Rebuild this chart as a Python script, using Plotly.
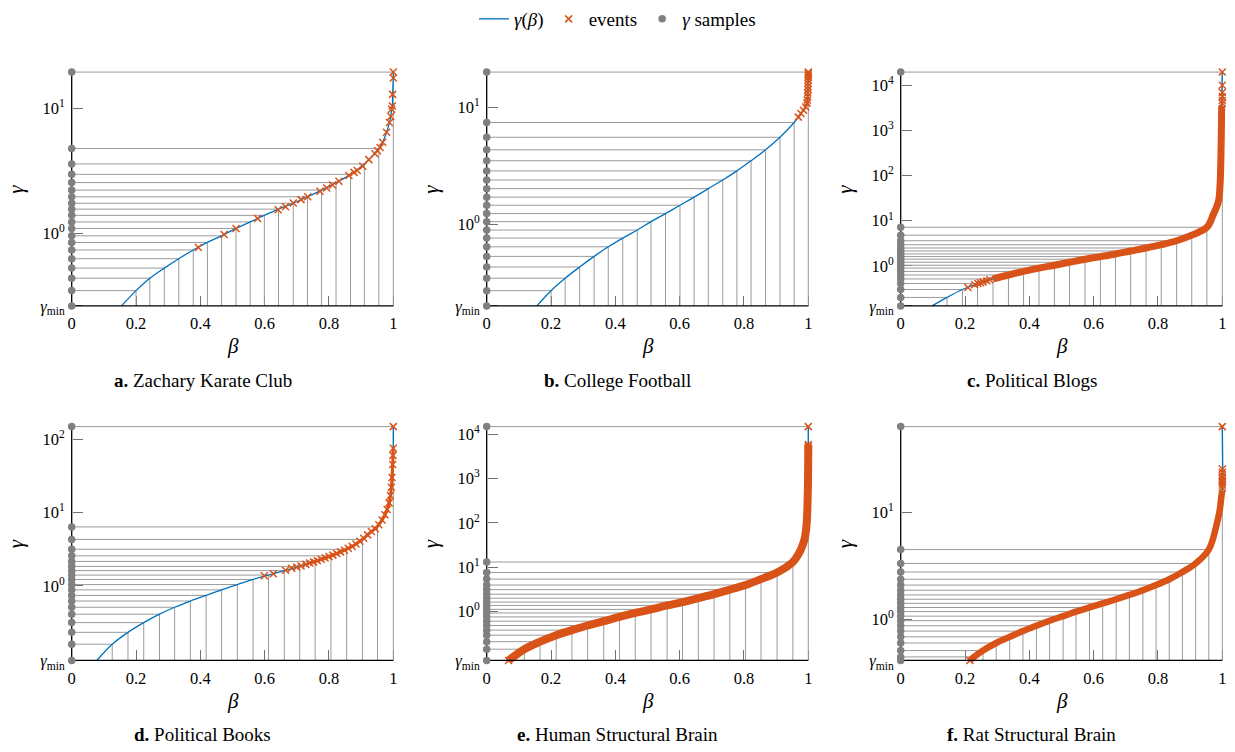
import math
import plotly.graph_objects as go

# ---------------- data ----------------
panel_letters = ["a.", "b.", "c.", "d.", "e.", "f."]
panel_names = ["Zachary Karate Club", "College Football", "Political Blogs",
               "Political Books", "Human Structural Brain", "Rat Structural Brain"]
x_tick_vals = [0, 0.2, 0.4, 0.6, 0.8, 1]
x_tick_text = ["0", "0.2", "0.4", "0.6", "0.8", "1"]

# a. Zachary Karate Club
a_gmin, a_gmax = 0.264, 19.6
a_yticks = [1, 10]
a_sample_beta = [0.200, 0.243, 0.288, 0.333, 0.378, 0.422, 0.466, 0.511, 0.555, 0.599, 0.643, 0.689, 0.733, 0.777, 0.822, 0.867, 0.910, 0.955, 1.000]
a_sample_gamma = [0.35, 0.44, 0.53, 0.63, 0.74, 0.85, 0.96, 1.10, 1.24, 1.40, 1.57, 1.75, 1.97, 2.23, 2.56, 2.98, 3.61, 4.80, 19.6]
a_curve_beta = [0.155, 0.200, 0.243, 0.288, 0.333, 0.378, 0.422, 0.466, 0.511, 0.555, 0.599, 0.643, 0.689, 0.733, 0.777, 0.822, 0.867, 0.910, 0.955, 0.967, 0.979, 0.988, 0.992, 0.995, 0.997, 0.998, 1.000, 1.000]
a_curve_gamma = [0.264, 0.35, 0.44, 0.53, 0.63, 0.74, 0.85, 0.96, 1.10, 1.24, 1.40, 1.57, 1.75, 1.97, 2.23, 2.56, 2.98, 3.61, 4.80, 5.39, 6.47, 7.75, 8.65, 9.9, 10.5, 13.0, 17.6, 19.6]
a_event_beta = [0.394, 0.474, 0.511, 0.578, 0.642, 0.665, 0.689, 0.713, 0.734, 0.772, 0.793, 0.811, 0.831, 0.862, 0.878, 0.888, 0.905, 0.924, 0.943, 0.951, 0.959, 0.967, 0.979, 0.988, 0.992, 0.995, 0.997, 0.998, 1.000, 1.000]
a_event_gamma = [0.775, 0.985, 1.10, 1.32, 1.55, 1.64, 1.76, 1.87, 1.97, 2.18, 2.32, 2.45, 2.62, 2.92, 3.09, 3.20, 3.46, 3.91, 4.36, 4.60, 4.89, 5.39, 6.47, 7.75, 8.65, 9.9, 10.5, 13.0, 17.6, 19.6]
a_band_beta, a_band_gamma = [], []

# b. College Football
b_gmin, b_gmax = 0.2, 19.9
b_yticks = [1, 10]
b_sample_beta = [0.200, 0.244, 0.289, 0.334, 0.378, 0.423, 0.468, 0.511, 0.556, 0.601, 0.645, 0.689, 0.734, 0.778, 0.822, 0.867, 0.912, 0.956, 1.000]
b_sample_gamma = [0.27, 0.345, 0.43, 0.53, 0.64, 0.76, 0.89, 1.05, 1.23, 1.45, 1.70, 2.01, 2.38, 2.85, 3.48, 4.31, 5.52, 7.38, 19.9]
b_curve_beta = [0.156, 0.200, 0.244, 0.289, 0.334, 0.378, 0.423, 0.468, 0.511, 0.556, 0.601, 0.645, 0.689, 0.734, 0.778, 0.822, 0.867, 0.912, 0.956, 0.969, 0.977, 0.985, 0.992, 0.996, 0.998, 0.999, 1.000, 1.000]
b_curve_gamma = [0.2, 0.27, 0.345, 0.43, 0.53, 0.64, 0.76, 0.89, 1.05, 1.23, 1.45, 1.70, 2.01, 2.38, 2.85, 3.48, 4.31, 5.52, 7.38, 8.2, 8.8, 9.4, 10.0, 10.8, 12.3, 14.0, 17.0, 19.9]
b_event_beta = [0.969, 0.977, 0.985, 0.992, 0.996, 0.997, 0.998, 0.998, 0.999, 0.999, 0.999, 1.000, 1.000, 1.000, 1.000, 1.000]
b_event_gamma = [8.2, 8.8, 9.4, 10.0, 10.8, 11.5, 12.3, 13.2, 14.1, 15.0, 16.0, 17.0, 18.0, 18.6, 19.3, 19.9]
b_band_beta, b_band_gamma = [], []

# c. Political Blogs
c_gmin, c_gmax = 0.129, 19600
c_yticks = [1, 10, 100, 1000, 10000]
c_sample_beta = [0.144, 0.192, 0.239, 0.287, 0.335, 0.382, 0.430, 0.478, 0.525, 0.573, 0.621, 0.668, 0.715, 0.763, 0.810, 0.858, 0.905, 0.952, 1.000]
c_sample_gamma = [0.199, 0.298, 0.404, 0.511, 0.625, 0.751, 0.889, 1.03, 1.20, 1.40, 1.60, 1.83, 2.13, 2.48, 2.93, 3.59, 4.77, 7.14, 19600]
c_curve_beta = [0.098, 0.144, 0.192, 0.239, 0.287, 0.335, 0.382, 0.430, 0.478, 0.525, 0.573, 0.621, 0.668, 0.715, 0.763, 0.810, 0.858, 0.905, 0.952, 0.972, 0.988, 0.993, 0.996, 0.998, 1.000]
c_curve_gamma = [0.129, 0.199, 0.298, 0.404, 0.511, 0.625, 0.751, 0.889, 1.03, 1.20, 1.40, 1.60, 1.83, 2.13, 2.48, 2.93, 3.59, 4.77, 7.14, 13.7, 26.8, 62, 330, 3500, 19600]
c_band_beta = [0.287, 0.335, 0.382, 0.430, 0.478, 0.525, 0.573, 0.621, 0.668, 0.715, 0.763, 0.810, 0.858, 0.905, 0.952, 0.972, 0.988, 0.993, 0.996, 0.998]
c_band_gamma = [0.511, 0.625, 0.751, 0.889, 1.03, 1.20, 1.40, 1.60, 1.83, 2.13, 2.48, 2.93, 3.59, 4.77, 7.14, 13.7, 26.8, 62, 330, 3500]
c_event_beta = [0.209, 0.230, 0.240, 0.248, 0.256, 0.268, 0.277, 1.0, 1.0, 1.0, 1.0, 1.0, 1.0]
c_event_gamma = [0.33, 0.38, 0.405, 0.42, 0.44, 0.465, 0.49, 19600, 10000, 6900, 5600, 4600, 4000]

# d. Political Books
d_gmin, d_gmax = 0.096, 148
d_yticks = [1, 10, 100]
d_sample_beta = [0.126, 0.175, 0.224, 0.273, 0.320, 0.369, 0.418, 0.466, 0.515, 0.564, 0.612, 0.661, 0.709, 0.757, 0.806, 0.855, 0.904, 0.951, 1.000]
d_sample_gamma = [0.16, 0.232, 0.315, 0.41, 0.51, 0.62, 0.74, 0.88, 1.04, 1.22, 1.40, 1.61, 1.84, 2.15, 2.56, 3.15, 4.29, 6.35, 148]
d_curve_beta = [0.078, 0.126, 0.175, 0.224, 0.273, 0.320, 0.369, 0.418, 0.466, 0.515, 0.564, 0.612, 0.661, 0.709, 0.757, 0.806, 0.855, 0.904, 0.951, 0.965, 0.974, 0.981, 0.987, 0.991, 0.994, 0.996, 0.998, 0.999, 1.000, 1.000]
d_curve_gamma = [0.096, 0.16, 0.232, 0.315, 0.41, 0.51, 0.62, 0.74, 0.88, 1.04, 1.22, 1.40, 1.61, 1.84, 2.15, 2.56, 3.15, 4.29, 6.35, 7.9, 9.3, 11.0, 13.5, 17.0, 22.0, 30.0, 45.0, 60.0, 75.0, 148]
d_event_beta = [0.599, 0.627, 0.665, 0.684, 0.700, 0.713, 0.728, 0.740, 0.752, 0.764, 0.776, 0.788, 0.800, 0.812, 0.824, 0.836, 0.848, 0.860, 0.872, 0.884, 0.896, 0.908, 0.920, 0.932, 0.944, 0.955, 0.965, 0.974, 0.981, 0.987, 0.991, 0.994, 0.996, 0.998, 0.999, 1.000, 1.000]
d_event_gamma = [1.37, 1.46, 1.63, 1.73, 1.80, 1.86, 1.96, 2.04, 2.12, 2.20, 2.30, 2.40, 2.50, 2.62, 2.75, 2.90, 3.06, 3.25, 3.45, 3.72, 4.05, 4.45, 4.95, 5.5, 6.0, 6.8, 7.9, 9.3, 11.0, 13.5, 17.0, 22.0, 30.0, 45.0, 60.0, 75.0, 148]
d_band_beta = d_event_beta[7:36]
d_band_gamma = d_event_gamma[7:36]

# e. Human Structural Brain
e_gmin, e_gmax = 0.078, 14800
e_yticks = [1, 10, 100, 1000, 10000]
e_sample_beta = [0.117, 0.166, 0.216, 0.265, 0.314, 0.364, 0.413, 0.462, 0.511, 0.561, 0.609, 0.658, 0.707, 0.756, 0.805, 0.853, 0.903, 0.952, 1.000]
e_sample_gamma = [0.14, 0.207, 0.29, 0.377, 0.48, 0.60, 0.75, 0.92, 1.11, 1.36, 1.62, 1.98, 2.44, 3.10, 3.93, 5.35, 7.54, 13.0, 14800]
e_band_beta = [0.068, 0.117, 0.166, 0.216, 0.265, 0.314, 0.364, 0.413, 0.462, 0.511, 0.561, 0.609, 0.658, 0.707, 0.756, 0.805, 0.853, 0.903, 0.952, 0.977, 0.988, 0.994, 0.997, 0.999, 1.000]
e_band_gamma = [0.078, 0.14, 0.207, 0.29, 0.377, 0.48, 0.60, 0.75, 0.92, 1.11, 1.36, 1.62, 1.98, 2.44, 3.10, 3.93, 5.35, 7.54, 13.0, 25, 42, 80, 200, 800, 5800]
e_curve_beta = e_band_beta + [1.000]
e_curve_gamma = e_band_gamma + [14800]
e_event_beta = [0.068, 1.0, 1.0, 1.0, 1.0]
e_event_gamma = [0.078, 14800, 5800, 5200, 4600]

# f. Rat Structural Brain
f_gmin, f_gmax = 0.412, 63.5
f_yticks = [1, 10]
f_sample_beta = [0.228, 0.256, 0.297, 0.339, 0.380, 0.422, 0.463, 0.505, 0.545, 0.587, 0.628, 0.670, 0.711, 0.753, 0.794, 0.835, 0.876, 0.917, 0.958, 1.000]
f_sample_gamma = [0.445, 0.51, 0.60, 0.685, 0.775, 0.87, 0.97, 1.07, 1.18, 1.29, 1.41, 1.54, 1.69, 1.87, 2.09, 2.37, 2.77, 3.33, 4.49, 63.5]
f_band_beta = [0.215, 0.228, 0.256, 0.297, 0.339, 0.380, 0.422, 0.463, 0.505, 0.545, 0.587, 0.628, 0.670, 0.711, 0.753, 0.794, 0.835, 0.876, 0.917, 0.958, 0.981, 0.992, 0.997, 1.000]
f_band_gamma = [0.412, 0.445, 0.51, 0.60, 0.685, 0.775, 0.87, 0.97, 1.07, 1.18, 1.29, 1.41, 1.54, 1.69, 1.87, 2.09, 2.37, 2.77, 3.33, 4.49, 7.4, 10.5, 14.0, 16.0]
f_curve_beta = f_band_beta + [1.000]
f_curve_gamma = f_band_gamma + [63.5]
f_event_beta = [0.215, 1.0, 1.0, 1.0, 1.0, 1.0, 1.0, 1.0, 1.0, 1.0]
f_event_gamma = [0.412, 17.0, 18.0, 19.0, 20.0, 21.0, 22.0, 23.7, 25.5, 63.5]

panels = [
    dict(gmin=a_gmin, gmax=a_gmax, yt=a_yticks, sb=a_sample_beta, sg=a_sample_gamma, cb=a_curve_beta, cg=a_curve_gamma, eb=a_event_beta, eg=a_event_gamma, bb=a_band_beta, bg=a_band_gamma, bw=0),
    dict(gmin=b_gmin, gmax=b_gmax, yt=b_yticks, sb=b_sample_beta, sg=b_sample_gamma, cb=b_curve_beta, cg=b_curve_gamma, eb=b_event_beta, eg=b_event_gamma, bb=b_band_beta, bg=b_band_gamma, bw=0),
    dict(gmin=c_gmin, gmax=c_gmax, yt=c_yticks, sb=c_sample_beta, sg=c_sample_gamma, cb=c_curve_beta, cg=c_curve_gamma, eb=c_event_beta, eg=c_event_gamma, bb=c_band_beta, bg=c_band_gamma, bw=7),
    dict(gmin=d_gmin, gmax=d_gmax, yt=d_yticks, sb=d_sample_beta, sg=d_sample_gamma, cb=d_curve_beta, cg=d_curve_gamma, eb=d_event_beta, eg=d_event_gamma, bb=d_band_beta, bg=d_band_gamma, bw=3),
    dict(gmin=e_gmin, gmax=e_gmax, yt=e_yticks, sb=e_sample_beta, sg=e_sample_gamma, cb=e_curve_beta, cg=e_curve_gamma, eb=e_event_beta, eg=e_event_gamma, bb=e_band_beta, bg=e_band_gamma, bw=8),
    dict(gmin=f_gmin, gmax=f_gmax, yt=f_yticks, sb=f_sample_beta, sg=f_sample_gamma, cb=f_curve_beta, cg=f_curve_gamma, eb=f_event_beta, eg=f_event_gamma, bb=f_band_beta, bg=f_band_gamma, bw=6.5),
]

# ---------------- styling / layout ----------------
W, H = 1235, 752
SERIF = "Liberation Serif"
BLUE = "#0072BD"
ORANGE = "#D95319"
DOT = "#808080"
LINEGRAY = "#9a9a9a"
cols_x0 = [71.7, 486.7, 900.7]
plot_w = 321.6
rows_top = [69.0, 428.3]
plot_h = 237.0
PAD = 5.0

fig = go.Figure()
annotations = []
layout_axes = {}

for k, p in enumerate(panels):
    r, c = divmod(k, 3)
    X0 = cols_x0[c]
    X1 = X0 + plot_w
    Yt = rows_top[r]
    Yb = Yt + plot_h
    lo, hi = math.log10(p["gmin"]), math.log10(p["gmax"])
    sx = 1.0 / plot_w
    sy = (hi - lo) / plot_h
    suffix = "" if k == 0 else str(k + 1)
    xref, yref = "x" + suffix, "y" + suffix

    layout_axes["xaxis" + suffix] = dict(
        domain=[(X0 - PAD) / W, (X1 + PAD) / W],
        range=[-PAD * sx, 1 + PAD * sx],
        anchor="free", position=1 - Yb / H,
        showline=False, showgrid=False, zeroline=False,
        ticks="inside", ticklen=10, tickwidth=1, tickcolor="#707070",
        tickvals=x_tick_vals, ticktext=x_tick_text, ticklabelstandoff=6,
        tickfont=dict(family=SERIF, size=16.5, color="black"),
        layer="below traces",
    )
    ytv = [p["gmin"]] + p["yt"]
    ytt = ["<i>γ</i><sub>min</sub>"] + ["10<sup>%d</sup>" % round(math.log10(v)) for v in p["yt"]]
    layout_axes["yaxis" + suffix] = dict(
        type="log",
        domain=[1 - (Yb + PAD) / H, 1 - (Yt - PAD) / H],
        range=[lo - PAD * sy, hi + PAD * sy],
        anchor="free", position=X0 / W,
        showline=False, showgrid=False, zeroline=False,
        ticks="inside", ticklen=10, tickwidth=1, tickcolor="#707070",
        tickvals=ytv, ticktext=ytt, ticklabelstandoff=7,
        tickfont=dict(family=SERIF, size=16.5, color="black"),
        layer="below traces",
    )

    # sample guide lines
    lx, ly = [], []
    for b, g in zip(p["sb"], p["sg"]):
        lx += [0, b, None, b, b, None]
        ly += [g, g, None, p["gmin"], g, None]
    fig.add_trace(go.Scatter(x=lx, y=ly, mode="lines", xaxis=xref, yaxis=yref,
                             line=dict(color=LINEGRAY, width=1), showlegend=False, hoverinfo="skip"))
    # gamma(beta) curve
    fig.add_trace(go.Scatter(x=p["cb"], y=p["cg"], mode="lines", xaxis=xref, yaxis=yref,
                             line=dict(color=BLUE, width=1.3, shape="spline", smoothing=1.0),
                             name="<i>γ</i>(<i>β</i>)", showlegend=(k == 0), legendrank=1))
    # dense event band
    if p["bb"]:
        fig.add_trace(go.Scatter(x=p["bb"], y=p["bg"], mode="lines", xaxis=xref, yaxis=yref,
                                 line=dict(color=ORANGE, width=p["bw"], shape="spline", smoothing=1.0),
                                 showlegend=False, hoverinfo="skip"))
    # events
    fig.add_trace(go.Scatter(x=p["eb"], y=p["eg"], mode="markers", xaxis=xref, yaxis=yref, cliponaxis=False,
                             marker=dict(symbol="x-thin", size=7, color=ORANGE, line=dict(color=ORANGE, width=1.5)),
                             name="events", showlegend=(k == 0), legendrank=2))
    # axis lines
    fig.add_trace(go.Scatter(x=[0, 0, None, 0, 1], y=[p["gmax"], p["gmin"], None, p["gmin"], p["gmin"]],
                             mode="lines", xaxis=xref, yaxis=yref, line=dict(color="black", width=1.3),
                             showlegend=False, hoverinfo="skip"))
    # gamma samples on the axis
    fig.add_trace(go.Scatter(x=[0] * (len(p["sg"]) + 1), y=[p["gmin"]] + p["sg"], mode="markers",
                             xaxis=xref, yaxis=yref, cliponaxis=False,
                             marker=dict(symbol="circle", size=7.5, color=DOT),
                             name="<i>γ</i> samples", showlegend=(k == 0), legendrank=3))

    # labels
    annotations.append(dict(x=(X0 - 56) / W, y=1 - (Yt + plot_h / 2) / H, xref="paper", yref="paper",
                            xanchor="center", yanchor="middle",
                            text="<i>γ</i>", showarrow=False, textangle=-90,
                            font=dict(family=SERIF, size=21, color="black")))
    annotations.append(dict(x=(X0 + X1) / 2 / W, y=1 - (Yb + 41) / H, xref="paper", yref="paper",
                            xanchor="center", yanchor="middle",
                            text="<i>β</i>", showarrow=False,
                            font=dict(family=SERIF, size=21, color="black")))
    annotations.append(dict(x=((X0 + X1) / 2 - 30) / W, y=1 - (Yb + 75.5) / H, xref="paper", yref="paper",
                            xanchor="center", yanchor="middle",
                            text="<b>%s</b> %s" % (panel_letters[k], panel_names[k]), showarrow=False,
                            font=dict(family=SERIF, size=19, color="black")))

fig.update_layout(
    width=W, height=H,
    margin=dict(l=0, r=0, t=0, b=0),
    paper_bgcolor="white", plot_bgcolor="white",
    annotations=annotations,
    legend=dict(orientation="h", x=0.5, xanchor="center", y=1 - 15 / H, yanchor="middle",
                font=dict(family=SERIF, size=19, color="black"), bgcolor="rgba(0,0,0,0)",
                itemwidth=30, tracegroupgap=0),
    **layout_axes,
)

fig.write_html("out.html", config={"displayModeBar": False},
               post_script="document.body.style.margin='0px';")
